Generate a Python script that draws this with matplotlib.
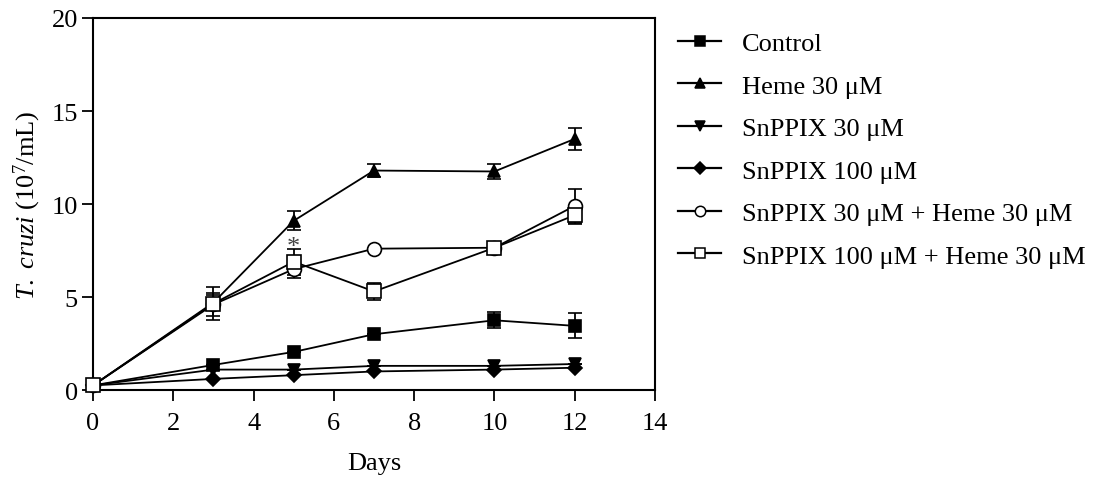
""" Growth curves of T. cruzi under heme / SnPPIX treatment """
import matplotlib
matplotlib.use("Agg")
import matplotlib.pyplot as plt
from matplotlib.lines import Line2D
import numpy as np

plt.rcParams['font.family'] = ['Liberation Serif', 'DejaVu Serif']
plt.rcParams['mathtext.fontset'] = 'custom'
plt.rcParams['mathtext.rm'] = 'Liberation Serif'
plt.rcParams['mathtext.it'] = 'Liberation Serif:italic'

days = [0, 3, 5, 7, 10, 12]

control = [0.25, 1.35, 2.05, 3.0, 3.75, 3.45]
control_err = [0.0, 0.0, 0.0, 0.0, 0.43, 0.67]

heme = [0.25, 4.7, 9.1, 11.8, 11.75, 13.5]
heme_err = [0.0, 0.4, 0.5, 0.35, 0.42, 0.58]

snppix30 = [0.25, 1.1, 1.1, 1.3, 1.3, 1.4]
snppix30_err = [0.0, 0.0, 0.0, 0.0, 0.0, 0.0]

snppix100 = [0.25, 0.6, 0.8, 1.0, 1.1, 1.2]
snppix100_err = [0.0, 0.0, 0.0, 0.0, 0.0, 0.0]

snppix30_heme = [0.25, 4.6, 6.5, 7.6, 7.65, 9.9]
snppix30_heme_err = [0.0, 0.6, 0.5, 0.0, 0.0, 0.92]

snppix100_heme = [0.25, 4.65, 6.9, 5.3, 7.65, 9.4]
snppix100_heme_err = [0.0, 0.9, 0.7, 0.47, 0.0, 0.5]

labels = ["Control", "Heme 30 \u03bcM", "SnPPIX 30 \u03bcM", "SnPPIX 100 \u03bcM",
          "SnPPIX 30 \u03bcM + Heme 30 \u03bcM", "SnPPIX 100 \u03bcM + Heme 30 \u03bcM"]

series = [
    (control, control_err, 's', 'black', 9),
    (heme, heme_err, '^', 'black', 9),
    (snppix30, snppix30_err, 'v', 'black', 9),
    (snppix100, snppix100_err, 'D', 'black', 7.5),
    (snppix30_heme, snppix30_heme_err, 'o', 'white', 10),
    (snppix100_heme, snppix100_heme_err, 's', 'white', 10),
]

fig = plt.figure(figsize=(10.96, 4.81), dpi=100)
ax = fig.add_axes([0.0849, 0.187, 0.5127, 0.7735])

handles = []
for (vals, errs, marker, face, ms), label in zip(series, labels):
    ax.errorbar(days, vals, yerr=errs, marker=marker, markersize=ms,
                markerfacecolor=face, markeredgecolor='black', markeredgewidth=1.2,
                color='black', linewidth=1.3, elinewidth=1.3, capsize=5, capthick=1.3,
                clip_on=False, zorder=3)
    handles.append(Line2D([], [], color='black', linewidth=1.6, marker=marker,
                          markersize=ms * 0.75, markerfacecolor=face,
                          markeredgecolor='black', markeredgewidth=1.1))

# significance mark above day 5
ax.text(5, 7.7, '*', ha='center', va='center', fontsize=19, color='#444444')

ax.set_xlim(0, 14)
ax.set_ylim(0, 20)
ax.set_xticks(np.arange(0, 15, 2))
ax.set_yticks(np.arange(0, 21, 5))
ax.tick_params(direction='out', length=8, width=1.3, labelsize=19)
ax.tick_params(axis='x', pad=8)
ax.tick_params(axis='y', pad=3)
for sp in ax.spines.values():
    sp.set_linewidth(1.5)

ax.set_xlabel("Days", fontsize=19, labelpad=13)
ax.set_ylabel(r"$\it{T.\ cruzi}$ (10$^7$/mL)", fontsize=19, labelpad=6)

fig.legend(handles=handles, labels=labels, loc='upper left', bbox_to_anchor=(0.619, 0.932),
           frameon=False, fontsize=19, handlelength=1.6, handletextpad=0.8,
           labelspacing=0.72, borderaxespad=0, borderpad=0)

fig.savefig("out.png", dpi=100)
